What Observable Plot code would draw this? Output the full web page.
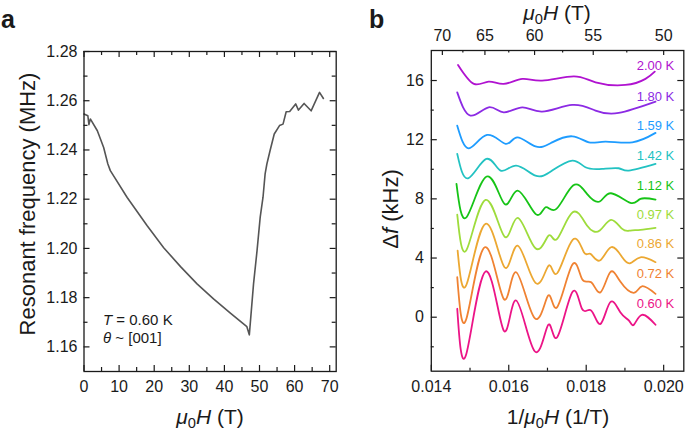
<!DOCTYPE html>
<html><head><meta charset="utf-8">
<script src="https://cdn.jsdelivr.net/npm/d3@7"></script>
<script src="https://cdn.jsdelivr.net/npm/@observablehq/plot@0.6"></script>
<style>
body{margin:0;background:#fff;font-family:"Liberation Sans",Arial,sans-serif;}
#wrap{position:relative;width:685px;height:430px;overflow:hidden;background:#fff;}
.t{position:absolute;white-space:nowrap;color:#1a1a1a;line-height:1;}
.t sub{font-size:0.7em;vertical-align:baseline;position:relative;top:0.3em;line-height:0;}
.rot{transform:translate(-50%,-50%) rotate(-90deg);}
.hc{transform:translateX(-50%);}
</style></head><body><div id="wrap"></div>
<script>
// ---------- Panel a data ----------
const fieldA = [0, 1.1, 1.4, 1.8, 3.8, 5.6, 6.8, 7.5, 12.3, 18.0, 22.7, 27.5, 32.2, 36.9, 41.7, 46.4, 47.1, 48.3, 49.3, 50.2, 51.0, 51.6, 52.1, 53.0, 54.2, 55.7, 56.7, 57.6, 58.6, 60.3, 61.1, 62.7, 64.7, 67.1, 68.2];
const freqA = [1.2546, 1.2539, 1.2503, 1.2526, 1.2478, 1.2410, 1.2343, 1.2316, 1.2207, 1.2092, 1.2003, 1.1926, 1.1856, 1.1795, 1.1737, 1.1682, 1.1649, 1.1856, 1.1991, 1.2127, 1.2208, 1.2303, 1.2343, 1.2397, 1.2465, 1.2499, 1.2505, 1.2555, 1.2556, 1.2587, 1.2562, 1.2589, 1.2559, 1.2634, 1.2609];
const xMajorA = [0, 10, 20, 30, 40, 50, 60, 70];
const xMinorA = [5, 15, 25, 35, 45, 55, 65];
const yMajorA = [1.16, 1.18, 1.20, 1.22, 1.24, 1.26, 1.28];
const yMinorA = [1.17, 1.19, 1.21, 1.23, 1.25, 1.27];

// ---------- Panel b data ----------
const tempLabels = ["0.60 K", "0.72 K", "0.86 K", "0.97 K", "1.12 K", "1.42 K", "1.59 K", "1.80 K", "2.00 K"];
const tempColors = ["#ec1487", "#f08232", "#eca832", "#9edc3c", "#16c416", "#22c2c2", "#1e9cff", "#8c2ae4", "#b012d0"];
const labelY = [0.9, 2.93, 4.95, 6.9, 8.9, 10.93, 12.96, 14.87, 16.97];

const x060 = [0.01467, 0.0149, 0.0154, 0.01587, 0.01619, 0.01667, 0.01702, 0.01725, 0.01764, 0.01789, 0.01813, 0.01837, 0.01862, 0.01888, 0.0191, 0.01923, 0.01944, 0.01979];
const y060 = [0.57, -2.52, 3.09, -0.9, 1.13, -2.3, -0.51, -1.35, 1.69, 0.57, 0.45, -0.45, 1.01, 0.34, -0.22, -0.51, 0.16, -0.51];
const x072 = [0.01467, 0.0149, 0.01538, 0.01587, 0.01619, 0.01667, 0.01702, 0.01725, 0.01764, 0.01789, 0.01813, 0.01837, 0.01862, 0.01888, 0.01923, 0.01944, 0.01979];
const y072 = [2.7, -0.16, 4.73, 1.24, 3.04, -0.07, 1.47, 0.68, 3.54, 2.59, 2.36, 1.69, 3.04, 2.41, 1.65, 2.09, 1.58];
const x086 = [0.01468, 0.01491, 0.0154, 0.01589, 0.01623, 0.01669, 0.01703, 0.01725, 0.01765, 0.01794, 0.01811, 0.01835, 0.01864, 0.01893, 0.01914, 0.0194, 0.01979];
const y086 = [4.5, 2.21, 6.31, 3.38, 4.84, 2.32, 3.49, 2.97, 5.23, 4.39, 4.28, 3.83, 4.73, 4.05, 3.65, 4.05, 3.72];
const x097 = [0.01467, 0.01491, 0.0154, 0.01589, 0.01623, 0.01669, 0.01703, 0.01725, 0.01765, 0.01802, 0.01835, 0.01864, 0.01893, 0.01914, 0.0194, 0.01979];
const y097 = [6.94, 4.55, 7.93, 5.45, 6.72, 4.66, 5.52, 5.3, 7.09, 6.2, 5.86, 6.58, 5.97, 5.86, 5.9, 6.04];
const x112 = [0.01465, 0.01491, 0.01543, 0.01589, 0.01623, 0.01669, 0.01695, 0.01723, 0.01766, 0.01802, 0.01835, 0.01864, 0.01914, 0.0194, 0.01979];
const y112 = [9.01, 6.76, 9.51, 7.66, 8.56, 6.99, 7.43, 7.32, 8.9, 8.34, 7.82, 8.38, 7.73, 8.0, 7.95];
const x142 = [0.01467, 0.01495, 0.01542, 0.01579, 0.01619, 0.01669, 0.01712, 0.01764, 0.01798, 0.01841, 0.01884, 0.0191, 0.01979];
const y142 = [11.04, 9.39, 10.7, 9.91, 10.25, 9.57, 9.91, 10.59, 10.14, 10.03, 10.07, 9.91, 10.36];
const x159 = [0.01467, 0.01497, 0.01544, 0.01592, 0.01622, 0.01669, 0.01712, 0.01764, 0.01807, 0.0185, 0.01919, 0.01979];
const y159 = [12.95, 11.42, 12.32, 11.72, 12.16, 11.55, 11.82, 12.23, 11.82, 11.87, 11.82, 12.46];
const x180 = [0.01467, 0.01501, 0.01548, 0.01587, 0.01635, 0.01686, 0.01764, 0.01824, 0.01884, 0.01979];
const y180 = [15.2, 13.63, 14.19, 13.85, 14.19, 13.9, 14.35, 13.97, 13.81, 14.57];
const x200 = [0.01469, 0.0151, 0.01548, 0.01587, 0.01635, 0.01686, 0.01768, 0.01824, 0.01901, 0.01953, 0.01977];
const y200 = [17.05, 15.77, 15.93, 15.77, 16.11, 16.0, 16.28, 15.88, 15.7, 16.11, 16.6];

const xMajorB = [0.014, 0.016, 0.018, 0.020];
const xMinorB = [0.015, 0.017, 0.019];
const yMajorB = [0, 4, 8, 12, 16];
const yMinorB = [-2, 2, 6, 10, 14];
const topMajorH = [70, 65, 60, 55, 50];
const topMinorH = [67.5, 62.5, 57.5, 52.5];

// ---------- build ----------
const FONT = "Liberation Sans, Arial, sans-serif";
const INK = "#1a1a1a";
const wrap = document.getElementById("wrap");

function inwardTicks(vals, axis, len, fw, fh) {
  const o = {stroke: INK, strokeWidth: 1.2};
  if (axis === "bottom") return Plot.tickX(vals, {...o, x: d => d, insetTop: fh - len});
  if (axis === "top") return Plot.tickX(vals, {...o, x: d => d, insetBottom: fh - len});
  if (axis === "left") return Plot.tickY(vals, {...o, y: d => d, insetRight: fw - len});
  return Plot.tickY(vals, {...o, y: d => d, insetLeft: fw - len});
}

// Panel a
const mA = {top: 51, right: 4.3, bottom: 59, left: 83.5};
const WA = 340, H = 430;
const fwA = WA - mA.left - mA.right, fhA = H - mA.top - mA.bottom;
const rowsA = fieldA.map((x, i) => ({x, y: freqA[i]}));
const plotA = Plot.plot({
  width: WA, height: H,
  marginTop: mA.top, marginRight: mA.right, marginBottom: mA.bottom, marginLeft: mA.left,
  style: {fontFamily: FONT, fontSize: "16px", color: INK, background: "transparent", overflow: "visible"},
  x: {domain: [0, 71.85]},
  y: {domain: [1.15, 1.28]},
  marks: [
    Plot.line(rowsA, {x: "x", y: "y", stroke: "#555555", strokeWidth: 1.6}),
    Plot.frame({stroke: INK, strokeWidth: 1.3}),
    ...["bottom", "top"].flatMap(a => [inwardTicks(xMajorA, a, 6, fwA, fhA), inwardTicks(xMinorA, a, 4, fwA, fhA)]),
    ...["left", "right"].flatMap(a => [inwardTicks(yMajorA, a, 6, fwA, fhA), inwardTicks(yMinorA, a, 4, fwA, fhA)]),
    Plot.axisX(xMajorA, {anchor: "bottom", tickSize: 0, tickPadding: 9, tickFormat: d => String(d), label: null, fontSize: 16, fill: INK}),
    Plot.axisY(yMajorA, {anchor: "left", tickSize: 0, tickPadding: 6.5, tickFormat: d3.format(".2f"), label: null, fontSize: 16, fill: INK})
  ]
});
plotA.style.position = "absolute"; plotA.style.left = "0px"; plotA.style.top = "0px";
wrap.appendChild(plotA);

// Panel b
const mB = {top: 50, right: 1.7, bottom: 59.3, left: 90.8};
const WB = 345;
const fwB = WB - mB.left - mB.right, fhB = H - mB.top - mB.bottom;
const seriesX = [x060, x072, x086, x097, x112, x142, x159, x180, x200];
const seriesY = [y060, y072, y086, y097, y112, y142, y159, y180, y200];
const rowsB = tempLabels.flatMap((T, i) => seriesX[i].map((x, j) => ({T, x, y: seriesY[i][j]})));
const labelRows = tempLabels.map((T, i) => ({T, y: labelY[i]}));
const plotB = Plot.plot({
  width: WB, height: H,
  marginTop: mB.top, marginRight: mB.right, marginBottom: mB.bottom, marginLeft: mB.left,
  style: {fontFamily: FONT, fontSize: "16px", color: INK, background: "transparent", overflow: "visible"},
  x: {domain: [0.014, 0.02052]},
  y: {domain: [-3.65, 18.03]},
  color: {domain: tempLabels, range: tempColors},
  marks: [
    Plot.line(rowsB, {x: "x", y: "y", z: "T", stroke: "T", strokeWidth: 1.8, curve: "natural"}),
    Plot.text(labelRows, {y: "y", text: "T", fill: "T", frameAnchor: "right", dx: -9.5, textAnchor: "end", fontSize: 13}),
    Plot.frame({stroke: INK, strokeWidth: 1.3}),
    inwardTicks(xMajorB, "bottom", 6, fwB, fhB), inwardTicks(xMinorB, "bottom", 3, fwB, fhB),
    inwardTicks(topMajorH.map(h => 1 / h), "top", 5, fwB, fhB), inwardTicks(topMinorH.map(h => 1 / h), "top", 2.5, fwB, fhB),
    ...["left", "right"].flatMap(a => [inwardTicks(yMajorB, a, 6, fwB, fhB), inwardTicks(yMinorB, a, 3, fwB, fhB)]),
    Plot.axisX(xMajorB, {anchor: "bottom", tickSize: 0, tickPadding: 9, tickFormat: d3.format(".3f"), label: null, fontSize: 16, fill: INK}),
    Plot.axisX(topMajorH.map(h => 1 / h), {anchor: "top", tickSize: 0, tickPadding: 10, tickFormat: d => String(Math.round(1 / d)), label: null, fontSize: 16, fill: INK}),
    Plot.axisY(yMajorB, {anchor: "left", tickSize: 0, tickPadding: 7.5, tickFormat: d => String(d), label: null, fontSize: 16, fill: INK})
  ]
});
plotB.style.position = "absolute"; plotB.style.left = "340px"; plotB.style.top = "0px";
wrap.appendChild(plotB);

// Titles and annotations (real text)
function addText(html, css, cls) {
  const d = document.createElement("div");
  d.className = "t " + (cls || "");
  d.innerHTML = html;
  Object.assign(d.style, css);
  wrap.appendChild(d);
}
addText("a", {left: "1px", top: "6.5px", fontSize: "25px", fontWeight: "bold"});
addText("b", {left: "369px", top: "6.5px", fontSize: "25px", fontWeight: "bold"});
addText("Resonant frequency (MHz)", {left: "28px", top: "204px", fontSize: "22px"}, "rot");
addText("<i>μ</i><sub>0</sub><i>H</i> (T)", {left: "210px", top: "406px", fontSize: "21px"}, "hc");
addText("<i>T</i> = 0.60 K", {left: "103px", top: "312.3px", fontSize: "15px"});
addText("<i>θ</i> ~ [001]", {left: "103px", top: "329.8px", fontSize: "15px"});
addText("<i>μ</i><sub>0</sub><i>H</i> (T)", {left: "557px", top: "1.5px", fontSize: "21px"}, "hc");
addText("1/<i>μ</i><sub>0</sub><i>H</i> (1/T)", {left: "558px", top: "406px", fontSize: "21px"}, "hc");
addText("Δ<i>f</i> (kHz)", {left: "391px", top: "209px", fontSize: "22px"}, "rot");
</script>
</body></html>
